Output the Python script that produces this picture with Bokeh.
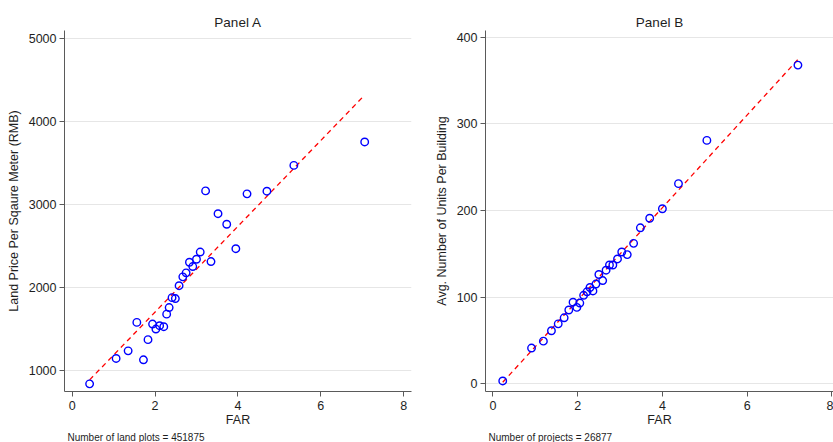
from bokeh.plotting import figure
from bokeh.layouts import row
from bokeh.models import Title, Range1d, FixedTicker
from bokeh.embed import file_html
from bokeh.resources import INLINE

# ---------------- data ----------------
# Panel A: FAR vs land price per square meter (RMB)
far_a = [0.42, 1.06, 1.35, 1.56, 1.72, 1.83, 1.94, 2.02, 2.11, 2.21,
         2.28, 2.34, 2.41, 2.49, 2.58, 2.67, 2.75, 2.83, 2.91, 3.00,
         3.09, 3.22, 3.35, 3.52, 3.73, 3.95, 4.22, 4.70, 5.35, 7.06]
price_a = [837, 1143, 1235, 1578, 1127, 1370, 1558, 1498, 1538, 1526,
           1677, 1757, 1876, 1865, 2020, 2127, 2175, 2303, 2251, 2339,
           2426, 3163, 2311, 2888, 2761, 2466, 3127, 3159, 3470, 3753]
fit_a_x = [0.42, 7.06]
fit_a_y = [885, 4318]

# Panel B: FAR vs average number of units per building
far_b = [0.23, 0.91, 1.19, 1.38, 1.54, 1.68, 1.79, 1.89, 1.98, 2.05,
         2.14, 2.22, 2.29, 2.36, 2.43, 2.50, 2.59, 2.67, 2.75, 2.83,
         2.94, 3.04, 3.17, 3.32, 3.48, 3.70, 4.00, 4.38, 5.05, 7.20]
units_b = [3, 41, 49, 61, 69, 76, 85, 94, 88, 93,
           102, 106, 111, 107, 115, 126, 119, 131, 137, 137,
           144, 152, 149, 162, 180, 191, 202, 231, 281, 368]
fit_b_x = [0.23, 7.20]
fit_b_y = [1.5, 374.5]

x_ticks = [0, 2, 4, 6, 8]
y_ticks_a = [1000, 2000, 3000, 4000, 5000]
y_ticks_b = [0, 100, 200, 300, 400]

titles = ["Panel A", "Panel B"]
x_label = "FAR"
y_labels = ["Land Price Per Sqaure Meter (RMB)", "Avg. Number of Units Per Building"]
notes = ["Number of land plots = 451875", "Number of projects = 26877"]

FONT = "Liberation Sans"
TXT = "#1e1e1e"
AXC = "#5a5a5a"


def make_panel(width, xr, yr, yticks, xs, ys, fx, fy, title, ylabel, note,
               bl, br, bt):
    p = figure(width=width, height=442, x_range=Range1d(*xr), y_range=Range1d(*yr),
               output_backend="svg", toolbar_location=None,
               min_border_left=bl, min_border_right=br, min_border_top=bt,
               min_border_bottom=49)
    p.outline_line_color = None
    p.background_fill_color = "white"
    p.border_fill_color = "white"

    p.title.text = title
    p.title.align = "center"
    p.title.text_font = FONT
    p.title.text_font_size = "13.5px"
    p.title.text_font_style = "normal"
    p.title.text_color = TXT
    p.title.standoff = 2

    for ax in (p.xaxis[0], p.yaxis[0]):
        ax.axis_line_color = AXC
        ax.major_tick_line_color = AXC
        ax.minor_tick_line_color = None
        ax.major_tick_in = 0
        ax.major_tick_out = 5
        ax.major_label_text_font = FONT
        ax.major_label_text_font_size = "12.5px"
        ax.major_label_text_color = TXT
        ax.axis_label_text_font = FONT
        ax.axis_label_text_font_size = "12.5px"
        ax.axis_label_text_font_style = "normal"
        ax.axis_label_text_color = TXT

    p.xaxis[0].ticker = FixedTicker(ticks=x_ticks)
    p.yaxis[0].ticker = FixedTicker(ticks=yticks)
    p.xaxis[0].axis_label = x_label
    p.yaxis[0].axis_label = ylabel
    p.xaxis[0].major_label_standoff = 4
    p.xaxis[0].axis_label_standoff = 0
    p.yaxis[0].major_label_standoff = 3
    p.yaxis[0].axis_label_standoff = 5

    p.xgrid.grid_line_color = None
    p.ygrid.grid_line_color = "#E6E6E6"
    p.ygrid.grid_line_width = 1

    p.line(fx, fy, line_color="#FF0000", line_dash="5 4", line_width=1.3)
    p.scatter(xs, ys, marker="circle", size=7.5, fill_color=None,
              line_color="#0000FF", line_width=1.4)

    p.add_layout(Title(text=note, align="left", offset=3, text_font=FONT,
                       text_font_size="10px", text_font_style="normal",
                       text_color=TXT, standoff=0), "below")
    return p


pa = make_panel(416, (-0.186, 8.19), (745, 5096), y_ticks_a, far_a, price_a,
                fit_a_x, fit_a_y, titles[0], y_labels[0], notes[0], 64, 5, 29)
pb = make_panel(417, (-0.177, 8.04), (-9.2, 408), y_ticks_b, far_b, units_b,
                fit_b_x, fit_b_y, titles[1], y_labels[1], notes[1], 69, 0, 30)

layout = row(pa, pb)
open("out.html", "w").write(file_html(layout, INLINE))
